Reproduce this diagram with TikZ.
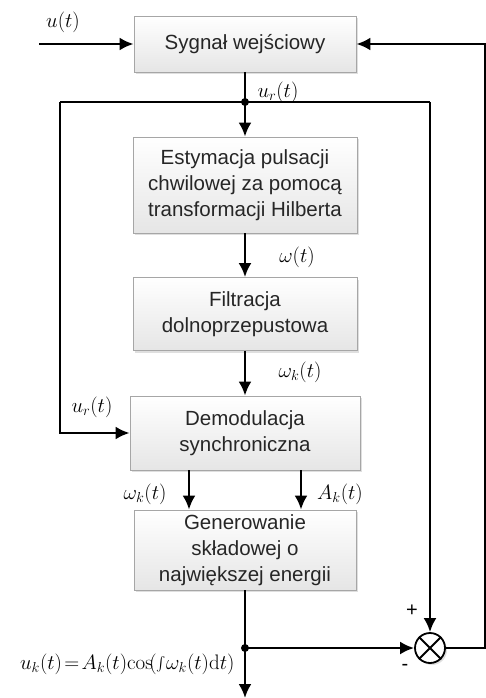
\documentclass[tikz,border=0pt]{standalone}
\usepackage{fontspec}
\usepackage{graphicx}
\setsansfont{Liberation Sans}
\usetikzlibrary{arrows.meta,shadows}

\begin{document}
\begin{tikzpicture}[x=1pt,y=-1pt,
  blok/.style={draw=gray!70,line width=0.8pt,top color=white,bottom color=gray!20,
    drop shadow={opacity=0.25,shadow xshift=2pt,shadow yshift=-2pt},
    align=center,inner sep=0pt,text=black!85,font=\sffamily\fontsize{20.5}{26}\selectfont},
  sig/.style={line width=2.5pt,-{Latex[length=14pt,width=13pt]}},
  wire/.style={line width=2.5pt},
  lbl/.style={font=\fontsize{21}{24}\selectfont},
  dot/.style={circle,fill=black,inner sep=0pt,minimum size=8pt}]

  \useasboundingbox (0,0) rectangle (486,698);

  % bloki
  \node[blok,minimum width=222pt,minimum height=56pt] (syg) at (245,44) {Sygnał wejściowy};
  \node[blok,minimum width=224pt,minimum height=96pt] (est) at (245,185) {Estymacja pulsacji\\chwilowej za pomocą\\transformacji Hilberta};
  \node[blok,minimum width=224pt,minimum height=73pt] (filt) at (245,314) {Filtracja\\dolnoprzepustowa};
  \node[blok,minimum width=230pt,minimum height=74pt] (demod) at (245,433) {Demodulacja\\synchroniczna};
  \node[blok,minimum width=222pt,minimum height=80pt] (gen) at (245,550) {Generowanie\\składowej o\\największej energii};

  % sumator
  \node[circle,draw,line width=1.8pt,fill=white,minimum size=30pt,
    drop shadow={opacity=0.25,shadow xshift=2pt,shadow yshift=-2pt}] (sum) at (430,648) {};
  \draw[line width=1.8pt] (sum.north west) -- (sum.south east) (sum.north east) -- (sum.south west);

  \coordinate (in) at (39,44);
  \node[dot] (jr) at (245,102) {};
  \coordinate (lc) at (60,102);
  \coordinate (rc) at (430,102);
  \node[dot] (jk) at (245,648) {};
  \coordinate (out) at (245,698);
  \coordinate (fb) at (485,648);
  \coordinate (fbt) at (485,44);

  \draw[sig] (in) -- (syg.west);
  \draw[wire] (syg.south) -- (jr.center);
  \draw[wire] (lc) -- (rc);
  \draw[sig] (jr.center) -- (est.north);
  \draw[sig] (est.south) -- (filt.north);
  \draw[sig] (filt.south) -- (demod.north);
  \draw[sig] (lc) -- (lc |- demod.west) -- (demod.west);
  \draw[sig] ([xshift=-56pt]demod.south) -- ([xshift=-56pt]gen.north);
  \draw[sig] ([xshift=56pt]demod.south) -- ([xshift=56pt]gen.north);
  \draw[wire] (gen.south) -- (jk.center);
  \draw[sig] (jk.center) -- (out);
  \draw[sig] (jk.center) -- (sum.west);
  \draw[sig] (rc) -- (sum.north);
  \draw[sig] (sum.east) -- (fb) -- (fbt) -- (syg.east);

  % opisy
  \node[lbl] (lu) at (63,22) {$u(t)$};
  \node[lbl] (lur) at (278,92) {$u_r(t)$};
  \node[lbl] (lw) at (297,257) {$\omega(t)$};
  \node[lbl] (lwk) at (300,372) {$\omega_k(t)$};
  \node[lbl] (lur2) at (92,407) {$u_r(t)$};
  \node[lbl] (lwk2) at (145,494) {$\omega_k(t)$};
  \node[lbl] (lak) at (340,494) {$A_k(t)$};
  \node[font=\sffamily\fontsize{20}{24}\selectfont] (lplus) at (412,611) {+};
  \node[font=\sffamily\fontsize{20}{24}\selectfont] (lminus) at (405,667) {-};
  \node[lbl,anchor=east] (luk) at (238,664) {$u_k(t)\!=\!A_k(t)\!\cos\!(\raisebox{-2pt}{\scalebox{1.4}{$\int$}}\omega_k(t)\mathrm{d}t)$};

\end{tikzpicture}
\end{document}
